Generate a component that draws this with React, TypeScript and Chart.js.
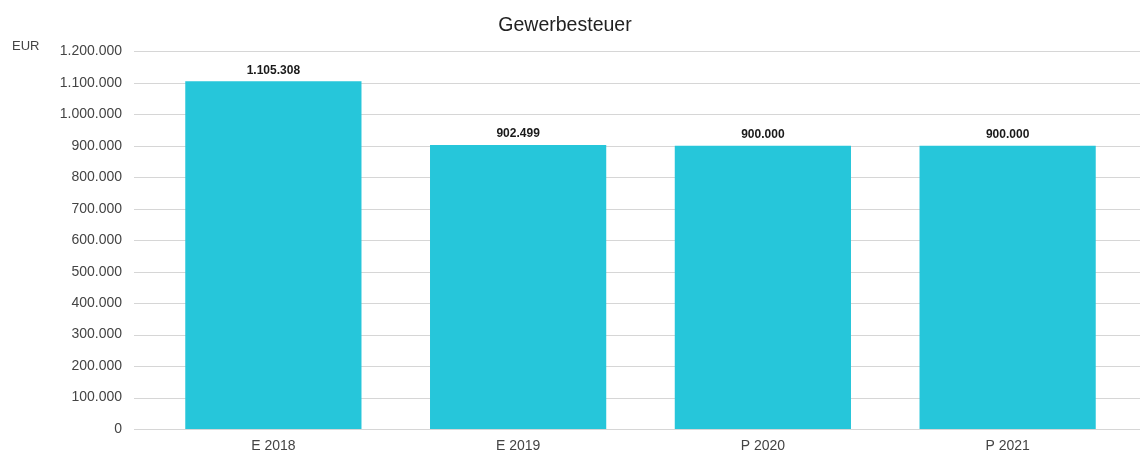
import React, { useEffect, useRef } from "react";
import { Chart, registerables } from "chart.js";

Chart.register(...registerables);

const categories = ["E 2018", "E 2019", "P 2020", "P 2021"];
const values = [1105308, 902499, 900000, 900000];
const yMin = 0;
const yMax = 1200000;
const yStep = 100000;
const titleText = "Gewerbesteuer";
const unitText = "EUR";

const FONT = "'Liberation Sans', Arial, sans-serif";

function fmt(v: number): string {
  const s = Math.round(v).toString();
  return s.replace(/\B(?=(\d{3})+(?!\d))/g, ".");
}

const gridPlugin = {
  id: "extGrid",
  beforeDatasetsDraw(chart: any) {
    const { ctx, scales } = chart;
    const y = scales.y;
    ctx.save();
    ctx.strokeStyle = "#d6d6d6";
    ctx.lineWidth = 1;
    y.ticks.forEach((t: any) => {
      const py = Math.round(y.getPixelForValue(t.value)) + 0.5;
      ctx.beginPath();
      ctx.moveTo(134, py);
      ctx.lineTo(chart.width, py);
      ctx.stroke();
    });
    ctx.restore();
  },
};

const labelPlugin = {
  id: "valLabels",
  afterDatasetsDraw(chart: any) {
    const { ctx } = chart;
    const meta = chart.getDatasetMeta(0);
    ctx.save();
    ctx.font = `bold 12px ${FONT}`;
    ctx.fillStyle = "#1a1a1a";
    ctx.textAlign = "center";
    ctx.textBaseline = "middle";
    meta.data.forEach((bar: any, i: number) => {
      ctx.fillText(fmt(values[i]), bar.x, bar.y - 11);
    });
    ctx.font = `13px ${FONT}`;
    ctx.fillStyle = "#444444";
    ctx.textAlign = "left";
    ctx.fillText(unitText, 12, 46.5);
    ctx.restore();
  },
};

export default function App() {
  const ref = useRef<HTMLCanvasElement | null>(null);
  useEffect(() => {
    if (!ref.current) return;
    const chart = new Chart(ref.current, {
      type: "bar",
      data: {
        labels: categories,
        datasets: [
          {
            data: values,
            backgroundColor: "#26C6DA",
            barPercentage: 0.72,
            categoryPercentage: 1,
          },
        ],
      },
      options: {
        animation: false,
        responsive: false,
        layout: { padding: { top: 13, right: 10, bottom: 0, left: 0 } },
        plugins: {
          legend: { display: false },
          tooltip: { enabled: false },
          title: {
            display: true,
            text: titleText,
            color: "#222222",
            font: { family: FONT, size: 19.5, weight: "normal" },
            padding: { top: 1, bottom: 14 },
          },
        },
        scales: {
          x: {
            grid: { display: false, drawTicks: false },
            border: { display: false },
            ticks: {
              color: "#444444",
              font: { family: FONT, size: 14 },
              padding: 9,
            },
            afterFit: (scale: any) => {
              scale.height = 25;
            },
          },
          y: {
            min: yMin,
            max: yMax,
            grid: { display: false, drawTicks: false },
            border: { display: false },
            ticks: {
              stepSize: yStep,
              color: "#444444",
              font: { family: FONT, size: 14 },
              padding: 29,
              callback: (v: any) => fmt(Number(v)),
            },
            afterFit: (scale: any) => {
              scale.width = 151;
              scale.paddingTop = 8;
              scale.paddingBottom = 8;
            },
          },
        },
      },
      plugins: [gridPlugin, labelPlugin],
    });
    return () => chart.destroy();
  }, []);
  return (
    <div style={{ position: "absolute", left: 0, top: 0, width: 1140, height: 454, background: "#fff" }}>
      <canvas ref={ref} width={1140} height={454} />
    </div>
  );
}
